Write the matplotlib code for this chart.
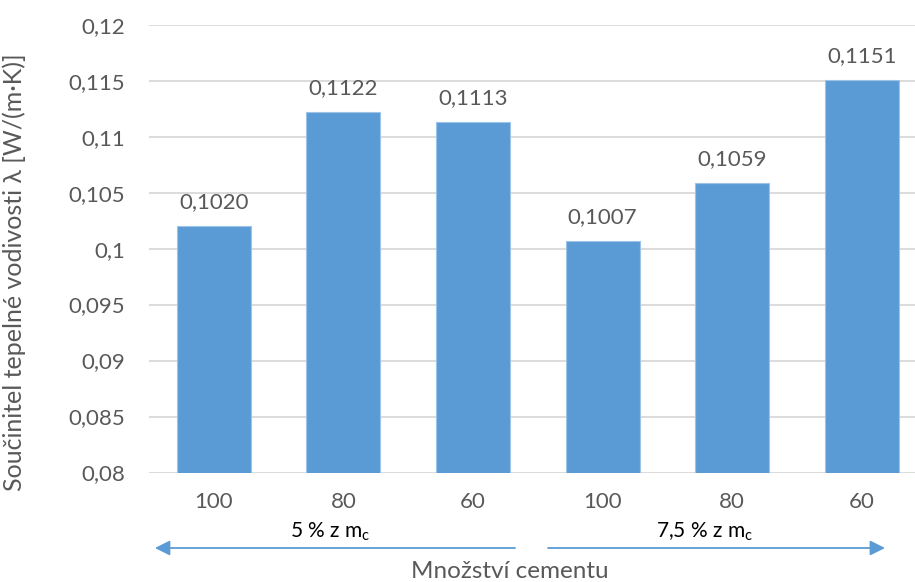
import matplotlib
matplotlib.use("Agg")
import matplotlib.pyplot as plt
import numpy as np

categories = ["100", "80", "60", "100", "80", "60"]
values = [0.1020, 0.1122, 0.1113, 0.1007, 0.1059, 0.1151]
value_labels = ["0,1020", "0,1122", "0,1113", "0,1007", "0,1059", "0,1151"]
y_ticks = [0.08, 0.085, 0.09, 0.095, 0.1, 0.105, 0.11, 0.115, 0.12]
y_tick_labels = ["0,08", "0,085", "0,09", "0,095", "0,1", "0,105", "0,11", "0,115", "0,12"]
groups = ["5 % z m$_{\\mathrm{c}}$", "7,5 % z m$_{\\mathrm{c}}$"]

plt.rcParams["font.family"] = ["Lato", "DejaVu Sans"]
plt.rcParams["mathtext.fontset"] = "custom"
plt.rcParams["mathtext.rm"] = "Lato"
plt.rcParams["mathtext.it"] = "Lato:italic"

TEXT = "#595959"
BAR = "#5B9BD5"
GRID = "#D9D9D9"

fig = plt.figure(figsize=(9.15, 5.82), dpi=100)
ax = fig.add_axes([0.1628, 0.1881, 0.8499, 0.7695])

x = np.arange(len(categories))
ax.bar(x, values, width=0.57, color=BAR, edgecolor="#9DC3E6", linewidth=0.8, zorder=3)

ax.set_ylim(0.08, 0.12)
ax.set_xlim(-0.5, 5.5)
ax.set_yticks(y_ticks)
ax.set_yticklabels(y_tick_labels)
ax.set_xticks(x)
ax.set_xticklabels(categories)
ax.tick_params(axis="both", length=0, colors=TEXT, labelsize=16)
ax.tick_params(axis="y", pad=17)
ax.tick_params(axis="x", pad=14)

ax.grid(axis="y", color=GRID, linewidth=1.3, zorder=0)
for s in ax.spines.values():
    s.set_visible(False)

for xi, v, t in zip(x, values, value_labels):
    ax.annotate(t, (xi, v), xytext=(0, 10), textcoords="offset points",
                ha="center", va="bottom", fontsize=16, color=TEXT)

ax.set_ylabel("Součinitel tepelné vodivosti λ [W/(m·K)]", fontsize=18, color=TEXT)
ax.yaxis.set_label_coords(-0.158, 0.4475)

trans = ax.get_xaxis_transform()
ax.text(2.285, -0.222, "Množství cementu", transform=trans, ha="center", va="center",
        fontsize=17.5, color=TEXT)

ax.text(0.9, -0.132, groups[0], transform=trans, ha="center", va="center",
        fontsize=15, color="black")
ax.text(3.79, -0.132, groups[1], transform=trans, ha="center", va="center",
        fontsize=15, color="black")

arrow = dict(arrowstyle="-|>,head_length=0.9,head_width=0.45", color=BAR, lw=1.3,
             shrinkA=0, shrinkB=0)
ax.annotate("", xy=(-0.454, -0.1685), xytext=(2.324, -0.1685), xycoords=trans,
            textcoords=trans, arrowprops=arrow, annotation_clip=False)
ax.annotate("", xy=(5.179, -0.1685), xytext=(2.579, -0.1685), xycoords=trans,
            textcoords=trans, arrowprops=arrow, annotation_clip=False)

fig.savefig("out.png", dpi=100)
